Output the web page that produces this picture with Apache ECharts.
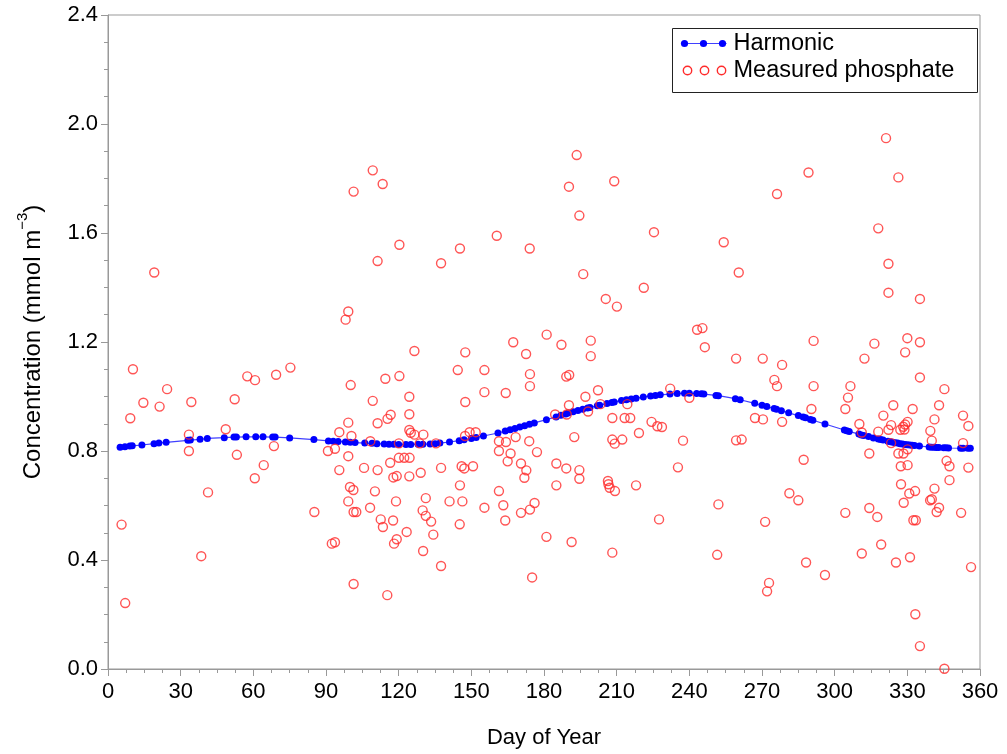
<!DOCTYPE html>
<html>
<head>
<meta charset="utf-8">
<title>Phosphate concentration by day of year</title>
<script src="https://cdn.jsdelivr.net/npm/echarts@6/dist/echarts.min.js"></script>
<style>
  html, body { margin: 0; padding: 0; background: #ffffff; }
  #chart { width: 1007px; height: 754px; }
</style>
</head>
<body>
<div id="chart"></div>
<script>
// Axis ticks
const dayTicks = [0, 30, 60, 90, 120, 150, 180, 210, 240, 270, 300, 330, 360];
const concTicks = [0.0, 0.4, 0.8, 1.2, 1.6, 2.0, 2.4];

// Harmonic fit: day of year and fitted concentration (mmol m^-3)
const harmonicDays = [
  5, 7, 9, 10, 14, 19, 21, 24, 33, 34, 38, 41, 48, 52, 53, 57, 61, 64, 68, 69, 75, 85,
  91, 93, 95, 98, 100, 102, 106, 109, 111, 114, 116, 118, 120, 123, 125, 128, 130, 133,
  135, 137, 141, 145, 147, 150, 152, 155, 161, 164, 166, 168, 170, 172, 174, 176, 181,
  185, 187, 189, 190, 192, 194, 196, 198, 199, 202, 203, 206, 208, 209, 212, 214, 216,
  218, 221, 224, 226, 228, 232, 235, 238, 240, 243, 245, 246, 251, 252, 259, 261, 267,
  270, 272, 275, 276, 278, 281, 285, 287, 288, 290, 291, 296, 304, 305, 306, 310, 311,
  312, 314, 316, 318, 319, 320, 322, 323, 324, 325, 326, 327, 328, 329, 330, 331, 332,
  333, 335, 339, 340, 341, 342, 343, 345, 346, 347, 352, 353, 355, 356
];
const harmonicConc = [
  0.814, 0.816, 0.818, 0.819, 0.822, 0.827, 0.829, 0.832, 0.839, 0.840, 0.843, 0.846, 0.849, 0.851, 0.851, 0.852, 0.852, 0.852, 0.851, 0.851, 0.848, 0.842,
  0.837, 0.836, 0.835, 0.833, 0.832, 0.831, 0.829, 0.828, 0.827, 0.826, 0.825, 0.825, 0.824, 0.824, 0.824, 0.825, 0.825, 0.826,
  0.827, 0.829, 0.833, 0.838, 0.841, 0.846, 0.850, 0.855, 0.866, 0.873, 0.878, 0.883, 0.888, 0.893, 0.898, 0.903, 0.915,
  0.925, 0.931, 0.936, 0.939, 0.944, 0.949, 0.953, 0.958, 0.960, 0.966, 0.968, 0.974, 0.978, 0.980, 0.985, 0.988, 0.991,
  0.994, 0.998, 1.002, 1.004, 1.006, 1.009, 1.011, 1.012, 1.012, 1.011, 1.010, 1.009, 1.004, 1.003, 0.992, 0.988, 0.975,
  0.968, 0.963, 0.956, 0.953, 0.948, 0.940, 0.930, 0.925, 0.922, 0.916, 0.913, 0.899, 0.877, 0.874, 0.872, 0.862, 0.859,
  0.857, 0.853, 0.848, 0.844, 0.842, 0.840, 0.836, 0.834, 0.832, 0.830, 0.829, 0.827, 0.826, 0.824, 0.823, 0.822, 0.821,
  0.820, 0.818, 0.815, 0.814, 0.814, 0.813, 0.813, 0.812, 0.812, 0.811, 0.810, 0.810, 0.810, 0.810
];

// Measured phosphate samples: [day of year, concentration]
const measured = [
  [5.6,0.530],[7.1,0.242],[9.2,0.920],[10.3,1.100],[14.6,0.977],[19.1,1.455],[21.3,0.963],[24.4,1.027],
  [33.4,0.860],[33.4,0.800],[34.4,0.980],[38.5,0.414],[41.3,0.648],[48.6,0.880],[52.3,0.990],[53.2,0.786],
  [57.5,1.074],[60.7,1.060],[60.6,0.700],[64.3,0.748],[69.4,1.080],[68.5,0.818],[75.3,1.106],[85.2,0.576],
  [90.8,0.800],
  [109.3,1.830],[113.4,1.780],[101.4,1.752],[120.3,1.557],[111.3,1.497],[137.5,1.489],[145.3,1.543],
  [160.5,1.590],[174.1,1.543],
  [193.5,1.886],[190.3,1.770],[209.0,1.790],[194.6,1.664],[225.4,1.603],[254.2,1.566],[196.2,1.449],
  [260.4,1.455],[221.2,1.399],[205.5,1.358],[210.1,1.330],
  [321.2,1.948],[289.2,1.822],[276.2,1.743],[326.3,1.804],[318.0,1.617],[322.2,1.487],[322.2,1.381],[335.2,1.358],
  [99.2,1.312],[98.1,1.282],[181.1,1.227],[167.3,1.199],[172.6,1.156],[126.5,1.167],[147.5,1.162],[144.4,1.097],
  [155.4,1.097],[174.2,1.082],[174.2,1.038],[114.5,1.065],[120.3,1.075],[100.2,1.042],[155.4,1.016],[164.2,1.013],
  [124.4,0.999],[109.3,0.984],[147.5,0.980],[124.4,0.935],[116.7,0.933],[115.4,0.918],[111.3,0.902],[99.2,0.904],
  [95.5,0.869],[100.5,0.855],[124.4,0.877],[125.0,0.867],[126.5,0.860],[130.2,0.860],[108.3,0.836],[120.1,0.828],
  [128.7,0.828],[135.4,0.828],[147.4,0.855],[149.3,0.869],[151.8,0.869],[93.7,0.808],[99.2,0.781],[120.1,0.775],
  [122.3,0.775],[124.5,0.775],[116.5,0.757],[95.5,0.730],[105.7,0.738],[111.3,0.730],[129.1,0.720],[137.5,0.738],
  [146.0,0.744],[147.1,0.736],[150.7,0.744],[124.4,0.707],[119.2,0.708],[117.8,0.703],[145.3,0.674],[99.9,0.668],
  [101.3,0.657],[110.2,0.652],[161.4,0.836],[164.3,0.833],[168.3,0.851],[173.9,0.836],[161.4,0.800],[166.2,0.791],
  [177.1,0.796],[165.0,0.762],[170.5,0.754],[172.7,0.729],[171.9,0.702],[161.4,0.653],
  [187.2,1.190],[199.3,1.205],[199.3,1.148],[243.2,1.245],[245.4,1.251],[246.4,1.181],[259.3,1.139],[270.3,1.139],
  [189.2,1.073],[190.4,1.079],[202.3,1.023],[197.1,0.999],[232.1,1.029],[240.0,0.995],[190.3,0.968],[198.2,0.945],
  [203.3,0.972],[214.4,0.972],[184.6,0.934],[189.4,0.934],[208.2,0.921],[213.3,0.921],[215.6,0.921],[224.4,0.907],
  [226.8,0.891],[228.7,0.888],[267.1,0.921],[270.4,0.916],[192.5,0.851],[208.2,0.842],[209.2,0.827],[212.3,0.842],
  [219.2,0.866],[237.4,0.838],[259.3,0.839],[261.6,0.842],[185.1,0.754],[189.2,0.736],[194.6,0.730],[194.6,0.698],
  [235.3,0.740],[185.1,0.674],[206.4,0.690],[206.6,0.678],[207.1,0.665],[209.3,0.653],[218.0,0.674],
  [252.0,0.604],[227.5,0.549],[181.0,0.485],[191.4,0.466],[208.2,0.427],[251.5,0.419],[271.3,0.540],[272.9,0.316],
  [272.1,0.285],
  [99.2,0.615],[118.9,0.615],[131.2,0.627],[141.0,0.615],[146.3,0.615],[108.2,0.592],[101.4,0.576],[102.5,0.576],
  [129.9,0.582],[131.2,0.562],[133.4,0.541],[112.6,0.549],[117.7,0.545],[113.5,0.521],[145.2,0.531],[155.4,0.592],
  [163.2,0.601],[164.0,0.545],[170.5,0.573],[174.2,0.585],[176.1,0.609],[123.3,0.503],[134.3,0.493],[119.2,0.476],
  [118.1,0.460],[92.4,0.460],[93.7,0.465],[130.1,0.433],[137.5,0.378],[101.4,0.312],[115.3,0.271],[175.1,0.336],
  [291.3,1.204],[316.4,1.194],[330.0,1.214],[335.2,1.199],[329.1,1.162],[312.3,1.139],[278.3,1.116],[335.2,1.070],
  [275.1,1.061],[276.2,1.038],[291.3,1.038],[306.5,1.038],[305.5,0.996],[345.3,1.027],[324.2,0.968],[343.1,0.968],
  [290.4,0.954],[304.4,0.954],[332.2,0.954],[320.1,0.930],[353.0,0.930],[341.2,0.916],[278.3,0.907],[355.2,0.892],
  [310.2,0.899],[323.3,0.895],[322.2,0.878],[330.1,0.907],[329.1,0.897],[328.3,0.889],[328.8,0.879],[327.1,0.878],
  [318.0,0.871],[311.2,0.868],[339.5,0.874],[340.1,0.838],[353.0,0.829],[323.3,0.829],[330.1,0.806],[326.3,0.791],
  [328.4,0.791],[314.3,0.791],[287.2,0.768],[327.3,0.744],[330.1,0.748],[346.2,0.764],[347.4,0.744],[355.2,0.739],
  [347.4,0.693],[327.4,0.678],[341.2,0.662],[333.2,0.653],[281.3,0.645],[330.8,0.644],
  [285.0,0.619],[328.5,0.610],[339.4,0.619],[340.1,0.623],[343.1,0.592],[342.1,0.576],[352.2,0.573],[304.4,0.573],
  [314.3,0.591],[317.6,0.558],[332.5,0.546],[333.5,0.546],[319.2,0.457],[311.2,0.424],[331.1,0.410],[325.3,0.391],
  [288.2,0.391],[296.0,0.345],[356.3,0.374],[333.3,0.201],[335.2,0.084],[345.3,0.001]
];

const FONT = 'Liberation Sans, Arial, sans-serif';
const TEXT = '#000000';
const AXIS_GREY = '#999999';
const BLUE = '#0000ff';
const BLUE_LINE = '#4040ff';
const RED = '#ff2b2b';

const chart = echarts.init(document.getElementById('chart'), null, { renderer: 'canvas' });

const axisCommon = {
  type: 'value',
  nameLocation: 'middle',
  axisLine: { show: true, lineStyle: { color: AXIS_GREY, width: 1 } },
  axisTick: { show: true, inside: false, length: 7, lineStyle: { color: AXIS_GREY } },
  minorTick: { show: true, splitNumber: 4, length: 4, lineStyle: { color: AXIS_GREY } },
  splitLine: { show: false },
  minorSplitLine: { show: false }
};

chart.setOption({
  animation: false,
  backgroundColor: '#ffffff',
  grid: {
    left: 108, right: 27, top: 15, bottom: 84,
    show: true, borderColor: AXIS_GREY, borderWidth: 1, backgroundColor: 'transparent'
  },
  xAxis: Object.assign({}, axisCommon, {
    min: dayTicks[0],
    max: dayTicks[dayTicks.length - 1],
    interval: dayTicks[1] - dayTicks[0],
    name: 'Day of Year',
    nameGap: 58,
    nameTextStyle: { fontFamily: FONT, fontSize: 22, color: TEXT },
    axisLabel: { fontFamily: FONT, fontSize: 22, color: TEXT, margin: 12 }
  }),
  yAxis: Object.assign({}, axisCommon, {
    min: concTicks[0],
    max: concTicks[concTicks.length - 1],
    interval: concTicks[1] - concTicks[0],
    name: '{a|Concentration (mmol m}{s|−3}{a|)}',
    nameGap: 63,
    nameTextStyle: {
      fontFamily: FONT, color: TEXT,
      rich: {
        a: { fontFamily: FONT, fontSize: 24, color: TEXT, lineHeight: 30, verticalAlign: 'bottom' },
        s: { fontFamily: FONT, fontSize: 15, color: TEXT, lineHeight: 30, verticalAlign: 'top' }
      }
    },
    axisLabel: {
      fontFamily: FONT, fontSize: 22, color: TEXT, margin: 10,
      formatter: v => v.toFixed(1)
    }
  }),
  series: [
    {
      name: 'Harmonic',
      type: 'line',
      data: harmonicDays.map((d, i) => [d, harmonicConc[i]]),
      symbol: 'circle',
      symbolSize: 7,
      showSymbol: true,
      itemStyle: { color: BLUE },
      lineStyle: { color: BLUE_LINE, width: 1.2 },
      z: 2
    },
    {
      name: 'Measured phosphate',
      type: 'scatter',
      data: measured,
      symbol: 'circle',
      symbolSize: 9,
      itemStyle: { color: 'transparent', borderColor: RED, borderWidth: 1.4 },
      z: 3
    }
  ],
  graphic: [
    {
      type: 'group',
      left: 672,
      top: 28,
      children: [
        { type: 'rect', shape: { x: 0, y: 0, width: 305, height: 64 },
          style: { fill: '#ffffff', stroke: '#222', lineWidth: 1 } },
        { type: 'line', shape: { x1: 9, y1: 15, x2: 54, y2: 15 },
          style: { stroke: BLUE_LINE, lineWidth: 1.2 } },
        { type: 'circle', shape: { cx: 12, cy: 15, r: 3.6 }, style: { fill: BLUE } },
        { type: 'circle', shape: { cx: 31, cy: 15, r: 3.6 }, style: { fill: BLUE } },
        { type: 'circle', shape: { cx: 50, cy: 15, r: 3.6 }, style: { fill: BLUE } },
        { type: 'text', x: 61, y: 15,
          style: { text: 'Harmonic', font: '23.5px ' + FONT, fill: TEXT, verticalAlign: 'middle' } },
        { type: 'circle', shape: { cx: 15, cy: 42, r: 4.2 },
          style: { fill: 'none', stroke: RED, lineWidth: 1.4 } },
        { type: 'circle', shape: { cx: 32, cy: 42, r: 4.2 },
          style: { fill: 'none', stroke: RED, lineWidth: 1.4 } },
        { type: 'circle', shape: { cx: 49, cy: 42, r: 4.2 },
          style: { fill: 'none', stroke: RED, lineWidth: 1.4 } },
        { type: 'text', x: 61, y: 42,
          style: { text: 'Measured phosphate', font: '23.5px ' + FONT, fill: TEXT, verticalAlign: 'middle' } }
      ]
    }
  ]
});
</script>
</body>
</html>
